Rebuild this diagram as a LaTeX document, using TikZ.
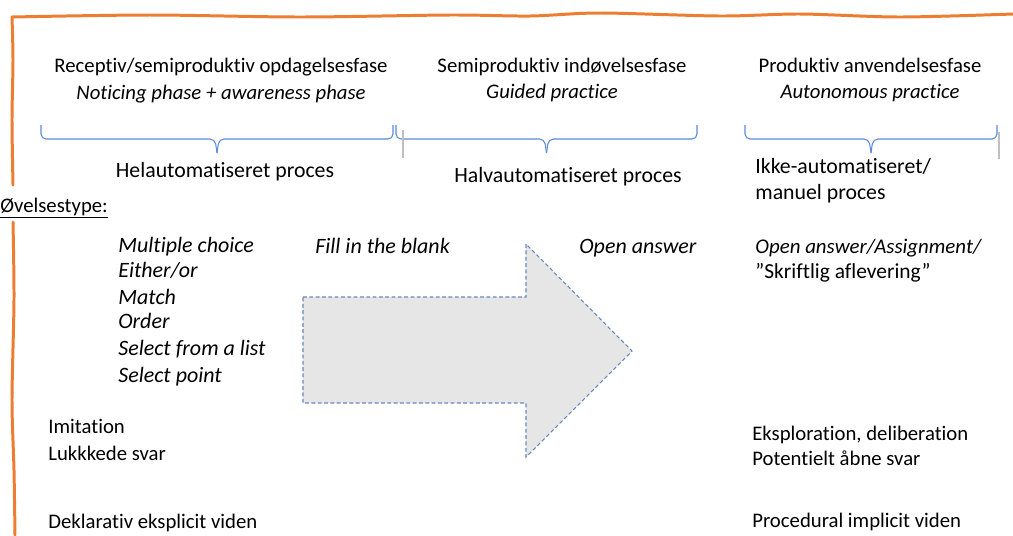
\documentclass[tikz,border=0pt]{standalone}
\usepackage{fontspec}
\setmainfont{Carlito}[Ligatures={NoCommon}]
\usetikzlibrary{positioning}
\usetikzlibrary{calc}

\definecolor{frameorange}{RGB}{237,125,49}
\definecolor{braceblue}{RGB}{91,139,214}
\definecolor{markgray}{RGB}{191,191,191}
\definecolor{arrowfill}{RGB}{231,230,230}
\definecolor{arrowline}{RGB}{105,135,190}

\tikzset{
    txt/.style={inner sep=0pt, anchor=base west},
    head/.style={inner sep=0pt, anchor=base},
    phasebrace/.style={draw=braceblue, line width=0.6pt, rounded corners=1mm},
}

\begin{document}
\begin{tikzpicture}[x=0.02cm, y=-0.02cm, font=\fontsize{11.8}{14}\selectfont]
    \useasboundingbox (0,0) rectangle (1013,535);

    % frame
    \draw[frameorange, line width=1.7pt, line cap=round] plot[smooth] coordinates
        {(12,17) (150,15) (300,17) (450,15) (530,16) (600,13) (720,16) (800,14) (900,17) (1013,14)};
    \draw[frameorange, line width=1.7pt, line cap=round] plot[smooth] coordinates
        {(12,17) (13,60) (12,120) (13,185)};
    \draw[frameorange, line width=1.7pt, line cap=round] plot[smooth] coordinates
        {(13,222) (14,300) (12,400) (14,470) (15,535)};

    % phases
    \node[head] (rec) at (221,72) {Receptiv/semiproduktiv opdagelsesfase};
    \node[head] (rec2) at ([yshift=-0.54cm]rec.base) {\itshape Noticing phase + awareness phase};
    \node[head] (semi) at (562,72) {Semiproduktiv indøvelsesfase};
    \node[head] (semi2) at (552,98) {\itshape Guided practice};
    \node[head] (prod) at (870,72) {Produktiv anvendelsesfase};
    \node[head] (prod2) at ([yshift=-0.52cm]prod.base) {\itshape Autonomous practice};

    % braces
    \coordinate (b1l) at (41,125);
    \coordinate (b1r) at (393,125);
    \coordinate (b2l) at (396,125);
    \coordinate (b2r) at (697,125);
    \coordinate (b3l) at (745,125);
    \coordinate (b3r) at (997,125);
    \foreach \l/\r in {b1l/b1r, b2l/b2r, b3l/b3r}{
        \coordinate (m) at ($(\l)!0.5!(\r)$);
        \draw[phasebrace] (\l) -- ($(\l)+(0,14)$) -- ($(m)+(-2,14)$) -- ($(m)+(0,28)$);
        \draw[phasebrace] ($(m)+(0,28)$) -- ($(m)+(2,14)$) -- ($(\r)+(0,14)$) -- (\r);
    }
    \coordinate (g1) at (403,130);
    \coordinate (g2) at (999,132);
    \draw[markgray, line width=0.8pt] (g1) -- ++(0,28);
    \draw[markgray, line width=0.8pt] (g2) -- ++(0,27);

    \begin{scope}[every node/.append style={font=\fontsize{12.4}{14}\selectfont}]
    \node[head] (hel) at (225,177) {Helautomatiseret proces};
    \node[head] (halv) at (568,182) {Halvautomatiseret proces};
    \node[txt] (ikke) at (755,173) {Ikke-automatiseret/};
    \node[txt] (ikke2) at ([yshift=-0.52cm]ikke.base west) {manuel proces};
    \end{scope}

    \node[txt] (ovt) at (0,212) {\underline{Øvelsestype:}};

    % exercise types
    \begin{scope}[every node/.append style={font=\fontsize{12.5}{14}\selectfont\itshape}]
    \node[txt] (mc) at (118,252) {Multiple choice};
    \node[txt] (eo) at ([yshift=-0.5cm]mc.base west) {Either/or};
    \node[txt] (ma) at ([yshift=-0.54cm]eo.base west) {Match};
    \node[txt] (ord) at ([yshift=-0.5cm]ma.base west) {Order};
    \node[txt] (sel) at ([yshift=-0.54cm]ord.base west) {Select from a list};
    \node[txt] (sp) at ([yshift=-0.54cm]sel.base west) {Select point};
    \node[txt] (fill) at (315,253) {Fill in the blank};
    \node[txt] (open) at (579,253) {Open answer};
    \end{scope}
    \node[txt, font=\fontsize{11.9}{14}\selectfont] (assign) at (755,253) {\itshape Open answer/Assignment/};
    \node[txt, font=\fontsize{12.2}{14}\selectfont] (skr) at ([yshift=-0.5cm]assign.base west) {”Skriftlig aflevering”};

    % arrow
    \draw[arrowline, fill=arrowfill, line width=0.6pt, dash pattern=on 2.2pt off 1.4pt]
        (303,297) -- (526,297) -- (526,244) -- (632,351) -- (526,457) -- (526,403) -- (303,403) -- cycle;

    % bottom
    \node[txt] (imi) at (48,433) {Imitation};
    \node[txt] (luk) at ([yshift=-0.54cm]imi.base west) {Lukkkede svar};
    \node[txt] (dek) at (48,528) {Deklarativ eksplicit viden};
    \node[txt] (eks) at (752,440) {Eksploration, deliberation};
    \node[txt] (pot) at ([yshift=-0.5cm]eks.base west) {Potentielt åbne svar};
    \node[txt] (proc) at (752,527) {Procedural implicit viden};
\end{tikzpicture}
\end{document}
